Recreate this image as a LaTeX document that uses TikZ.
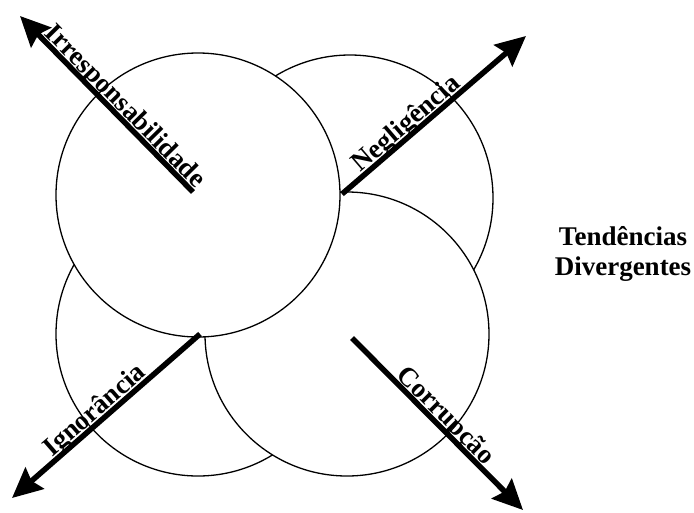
\documentclass[tikz,border=0pt]{standalone}
\usepackage{fontspec}
\setmainfont{Liberation Serif}
\usetikzlibrary{arrows.meta}
\begin{document}
\begin{tikzpicture}[x=1pt,y=-1pt,
  ring/.style={draw=black, line width=1.3pt, fill=white},
  bigarrow/.style={line width=5.5pt, -{Stealth[length=30pt,width=28pt,inset=4pt]}},
  lab/.style={sloped, anchor=base, inner sep=0pt, font=\bfseries\fontsize{27}{30}\selectfont},
  title/.style={align=center, inner sep=0pt, font=\bfseries\fontsize{27}{30}\selectfont}]
\useasboundingbox (0,0) rectangle (694,512);
% circles, back to front
\draw[ring] (350,198) circle[radius=143];
\draw[ring] (198,334) circle[radius=142];
\draw[ring] (347,334) circle[radius=142];
\draw[ring] (198,195) circle[radius=142];
% arrow end points
\coordinate (irrS) at (193,192);
\coordinate (irrT) at (20,16);
\coordinate (negS) at (342,194);
\coordinate (negT) at (526,36);
\coordinate (ignS) at (200,334);
\coordinate (ignT) at (12,498);
\coordinate (corS) at (352,338);
\coordinate (corT) at (523,510);
% arrows
\draw[bigarrow] (irrS) -- (irrT);
\draw[bigarrow] (negS) -- (negT);
\draw[bigarrow] (ignS) -- (ignT);
\draw[bigarrow] (corS) -- (corT);
% labels
\path (irrS) -- (irrT) node[lab, pos=0.44] (irrL) {\raisebox{4pt}{Irresponsabilidade}};
\path (negS) -- (negT) node[lab, pos=0.39] (negL) {\raisebox{4pt}{Negligência}};
\path (ignS) -- (ignT) node[lab, pos=0.52] (ignL) {\raisebox{4pt}{Ignorância}};
\path (corS) -- (corT) node[lab, pos=0.50] (corL) {\raisebox{4pt}{Corrupção}};
\node[title] (tit) at (623,254) {Tendências\\Divergentes};
\end{tikzpicture}
\end{document}
